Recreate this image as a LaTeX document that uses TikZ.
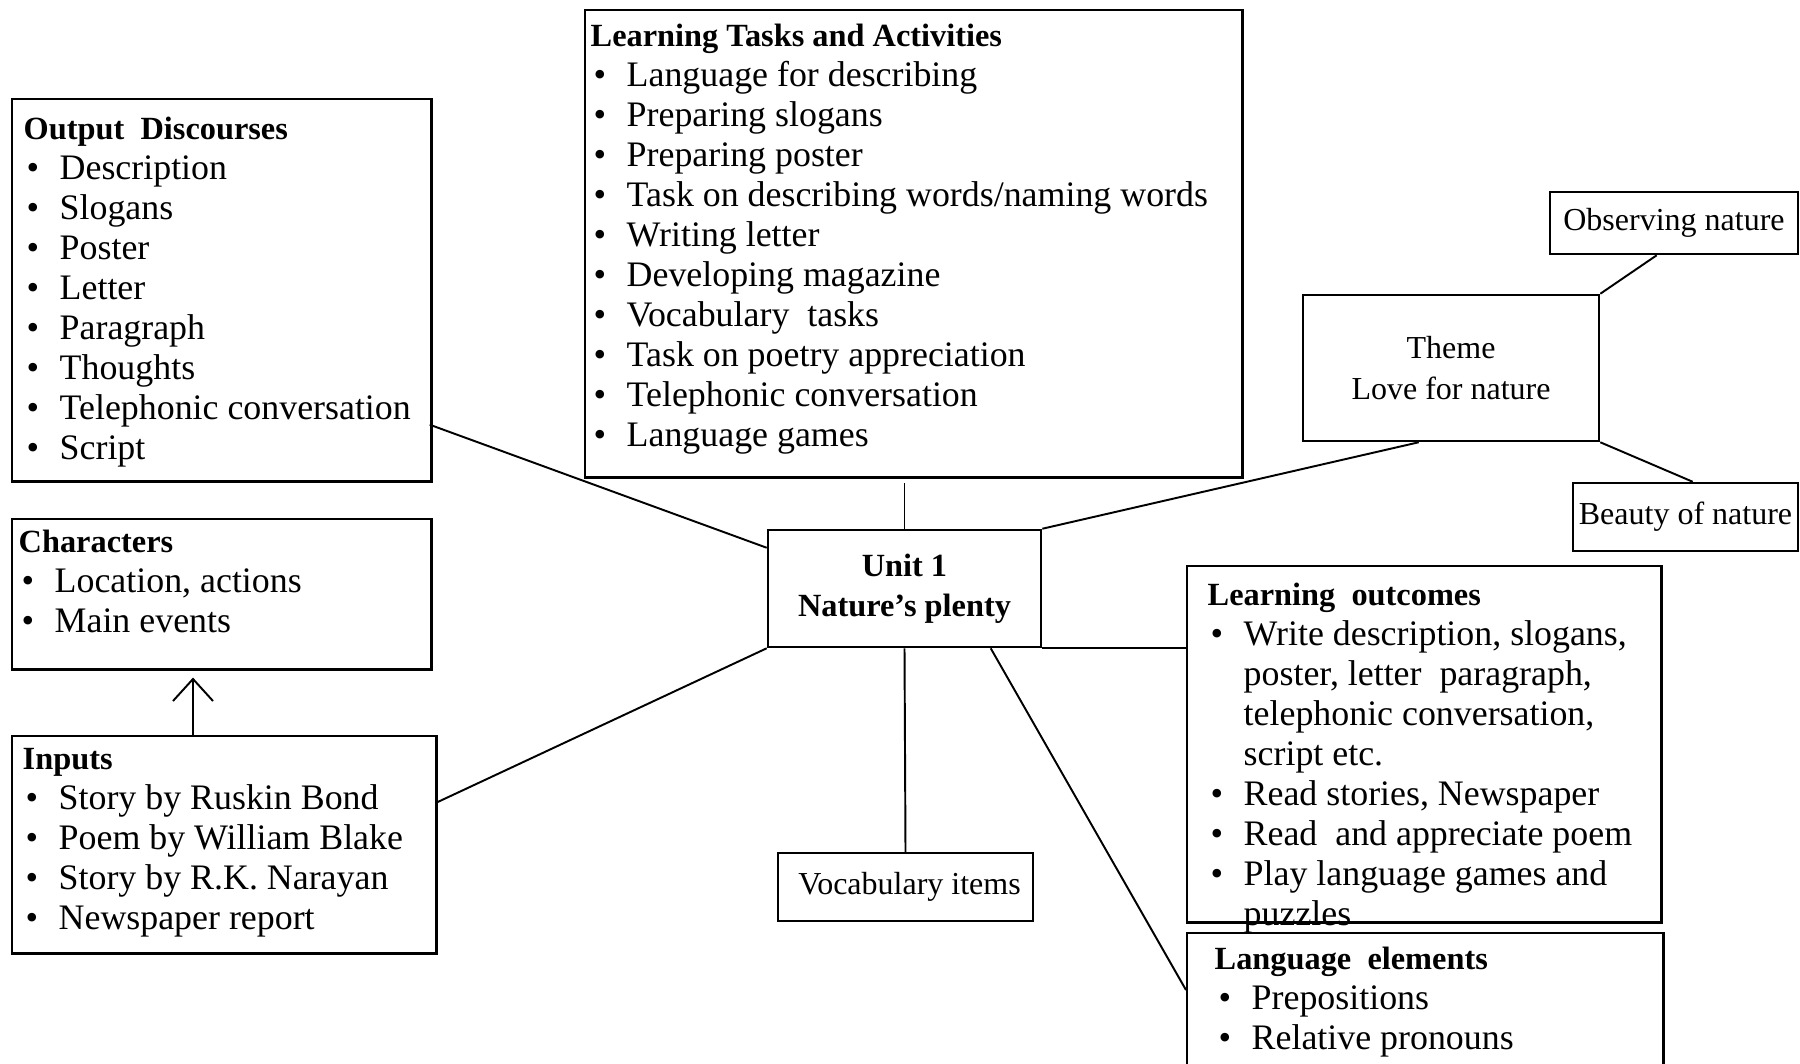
\documentclass[tikz,border=0pt]{standalone}
\usepackage{fontspec}
\setmainfont{Liberation Serif}
\usetikzlibrary{positioning,calc,arrows.meta}

\newcommand*{\bodyfont}{\fontsize{10.2}{11.4}\selectfont}
\newcommand*{\headfont}{\fontsize{9.2}{11.4}\selectfont\bfseries}
\newcommand*{\plainfont}{\fontsize{9.1}{11.4}\selectfont}
\newcommand*{\itm}[1]{\makebox[0.33cm][l]{\textbullet}#1}
\newcommand*{\ctn}[1]{\hspace*{0.33cm}#1}

\begin{document}
\begin{tikzpicture}[x=0.01cm,y=-0.01cm,
  frame/.style={draw, line width=.7pt, anchor=north west, inner sep=0pt},
  plainbox/.style={draw, line width=.7pt, inner sep=0pt, align=center, font=\plainfont},
  head/.style={anchor=base west, inner sep=0pt, font=\headfont},
  item/.style={anchor=base west, inner sep=0pt, font=\bodyfont},
  link/.style={line width=.55pt}]
\path[use as bounding box] (0,0) rectangle (1800,1063);
\clip (0,0) rectangle (1800,1063);

% output discourses
\node[frame, minimum width=4.19cm, minimum height=3.82cm] (output) at (11,98) {};
\node[head] (output-h) at (23,139) {Output\ \ Discourses};
\foreach \t [count=\i] in {Description,Slogans,Poster,Letter,Paragraph,Thoughts,Telephonic conversation,Script}
  \node[item] (output-\i) at (26,{139+40*\i}) {\itm{\t}};

% learning tasks
\node[frame, minimum width=6.57cm, minimum height=4.67cm] (tasks) at (584,9) {};
\node[head] (tasks-h) at (590,46) {Learning Tasks and Activities};
\foreach \t [count=\i] in {Language for describing,Preparing slogans,Preparing poster,
    Task on describing words/naming words,Writing letter,Developing magazine,
    Vocabulary\ \ tasks,Task on poetry appreciation,Telephonic conversation,Language games}
  \node[item] (tasks-\i) at (593,{46+40*\i}) {\itm{\t}};

% characters and inputs
\node[frame, minimum width=4.19cm, minimum height=1.50cm] (chars) at (11,518) {};
\node[head] (chars-h) at (18,552) {Characters};
\foreach \t [count=\i] in {{Location, actions},Main events}
  \node[item] (chars-\i) at (21,{552+40*\i}) {\itm{\t}};

\node[frame, minimum width=4.24cm, minimum height=2.17cm] (inputs) at (11,735) {};
\node[head] (inputs-h) at (22,769) {Inputs};
\foreach \t [count=\i] in {Story by Ruskin Bond,Poem by William Blake,Story by R.K. Narayan,Newspaper report}
  \node[item] (inputs-\i) at (25,{769+40*\i}) {\itm{\t}};

% centre and small boxes
\node[plainbox, font=\headfont, minimum width=2.73cm, minimum height=1.17cm] (unit) at (904.5,588.5) {Unit 1\\Nature's plenty};
\node[plainbox, minimum width=2.96cm, minimum height=1.46cm] (theme) at (1451,368) {Theme\\Love for nature};
\node[plainbox, minimum width=2.48cm, minimum height=0.62cm] (observe) at (1674,223) {Observing nature};
\node[plainbox, minimum width=2.25cm, minimum height=0.68cm] (beauty) at (1685.5,517) {Beauty of nature};
\node[plainbox, minimum width=2.55cm, minimum height=0.68cm] (vocab) at (905.5,887) {\hspace*{0.08cm}Vocabulary items};

% learning outcomes
\node[frame, minimum width=4.74cm, minimum height=3.56cm] (outcomes) at (1186,565) {};
\node[head] (outcomes-h) at (1207,605) {Learning\ \ outcomes};
\foreach \t [count=\i] in {{\itm{Write description, slogans,}},{\ctn{poster, letter\ \ paragraph,}},
    {\ctn{telephonic conversation,}},{\ctn{script etc.}},{\itm{Read stories, Newspaper}},
    {\itm{Read\ \ and appreciate poem}},{\itm{Play language games and}},{\ctn{puzzles}}}
  \node[item] (outcomes-\i) at (1210,{605+40*\i}) {\t};

% language elements
\node[frame, minimum width=4.76cm, minimum height=1.60cm] (elements) at (1186,932) {};
\node[head] (elements-h) at (1214,969) {Language\ \ elements};
\foreach \t [count=\i] in {Prepositions,Relative pronouns}
  \node[item] (elements-\i) at (1218,{969+40*\i}) {\itm{\t}};

% connectors
\draw[link] ($(output.south east)+(-3,-58)$) -- ($(unit.north west)+(0,19)$);
\draw[link] (unit.north) -- ++(0,-46);
\draw[link] (unit.north east) -- ($(theme.south west)+(117,0)$);
\draw[link] (theme.north east) -- ($(observe.south west)+(108,0)$);
\draw[link] (theme.south east) -- ($(beauty.north west)+(121,0)$);
\draw[link] ($(inputs.north east)+(0,67)$) -- (unit.south west);
\draw[link] (unit.south) -- (vocab.north);
\draw[link] (unit.south east) -- (unit.south east -| outcomes.west);
\draw[link] ($(unit.south west)+(224,0)$) -- ($(elements.north west)+(0,58)$);
\draw[link, -{Straight Barb[length=2.2mm, width=4mm]}] ($(inputs.north west)+(182,0)$) -- ($(chars.south west)+(182,7)$);
\end{tikzpicture}
\end{document}
